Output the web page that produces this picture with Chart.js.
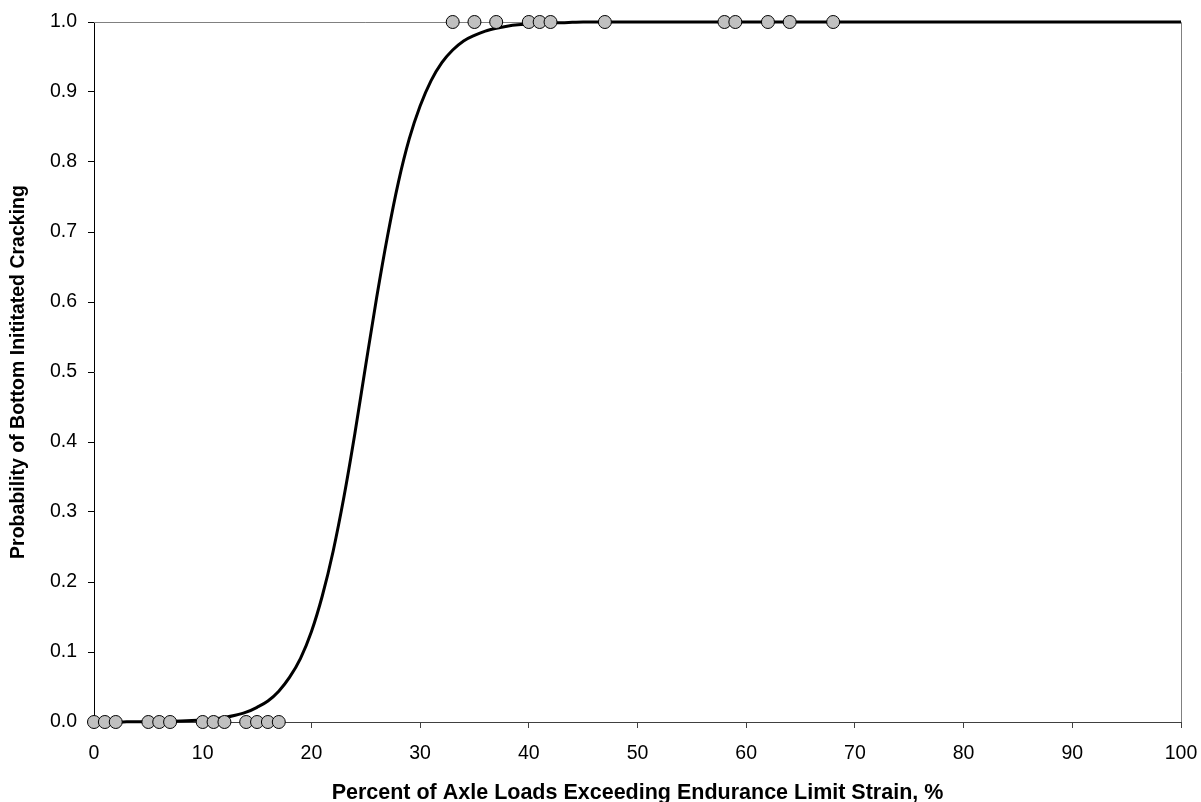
<!DOCTYPE html>
<html>
<head>
<meta charset="utf-8">
<script src="https://cdn.jsdelivr.net/npm/chart.js@4.4.1/dist/chart.umd.min.js"></script>
<style>
html,body{margin:0;padding:0;background:#fff;}
#wrap{width:1201px;height:802px;position:relative;}
</style>
</head>
<body>
<div id="wrap"><canvas id="c" width="1201" height="802"></canvas></div>
<script>
// Observed data points (x = % of axle loads exceeding limit, y = cracked 0/1)
const obsX = [0,1,2,5,6,7,10,11,12,14,15,16,17, 33,35,37,40,41,42,47,58,59,62,64,68];
const obsY = [0,0,0,0,0,0,0,0,0,0,0,0,0, 1,1,1,1,1,1,1,1,1,1,1,1];

// Fitted probability curve
const curveX = [0,1,2,3,4,5,6,7,8,9,10,11,12,13,14,15,16,17,18,19,20,21,22,23,24,25,26,27,28,29,30,31,32,33,34,35,36,37,38,39,40,41,42,43,44,45,50,60,70,80,90,100];
const curveY = [0.0001,0.0001,0.0001,0.0002,0.0003,0.0004,0.0006,0.0009,0.0013,0.002,0.003,0.0044,0.0065,0.0096,0.014,0.021,0.030,0.044,0.064,0.091,0.129,0.180,0.244,0.322,0.412,0.510,0.606,0.694,0.771,0.833,0.880,0.916,0.942,0.960,0.973,0.981,0.987,0.991,0.994,0.996,0.997,0.998,0.999,0.999,0.9995,1.0,1.0,1.0,1.0,1.0,1.0,1.0];

const xTicks = [0,10,20,30,40,50,60,70,80,90,100];
const yTicks = [0,0.1,0.2,0.3,0.4,0.5,0.6,0.7,0.8,0.9,1.0];

const FONT = "'Liberation Sans', Arial, sans-serif";

const frame = {
  id: 'frame',
  beforeDatasetsDraw(chart) {
    const {ctx, chartArea: a} = chart;
    ctx.save();
    ctx.strokeStyle = '#808080';
    ctx.lineWidth = 1;
    ctx.beginPath();
    ctx.moveTo(a.left, a.top + 0.5);
    ctx.lineTo(a.right + 0.5, a.top + 0.5);
    ctx.lineTo(a.right + 0.5, a.bottom);
    ctx.stroke();
    ctx.restore();
  }
};

new Chart(document.getElementById('c'), {
  type: 'scatter',
  data: {
    datasets: [
      {
        label: 'Observed',
        data: obsX.map((x, i) => ({x: x, y: obsY[i]})),
        pointRadius: 6.5,
        pointBackgroundColor: '#c0c0c0',
        pointBorderColor: '#000',
        pointBorderWidth: 1,
        showLine: false,
        clip: false
      },
      {
        label: 'Fitted',
        data: curveX.map((x, i) => ({x: x, y: curveY[i]})),
        showLine: true,
        borderColor: '#000',
        borderWidth: 3,
        pointRadius: 0,
        tension: 0.4,
        cubicInterpolationMode: 'monotone',
        fill: false,
        clip: false
      }
    ]
  },
  options: {
    responsive: false,
    animation: false,
    events: [],
    layout: {padding: {top: 22, right: 20, left: 0, bottom: 0}},
    plugins: {legend: {display: false}, tooltip: {enabled: false}},
    scales: {
      x: {
        type: 'linear',
        min: 0, max: 100,
        afterBuildTicks: s => { s.ticks = xTicks.map(v => ({value: v})); },
        afterFit: s => { s.height = 80; s.paddingLeft = 0; s.paddingRight = 0; },
        grid: {display: true, drawOnChartArea: false, drawTicks: true, tickLength: 6, color: '#404040'},
        border: {display: true, color: '#404040', width: 1},
        ticks: {color: '#000', font: {family: FONT, size: 19.5}, padding: 14, maxRotation: 0,
                callback: v => String(v)},
        title: {display: true, text: 'Percent of Axle Loads Exceeding Endurance Limit Strain, %',
                color: '#000', font: {family: FONT, size: 21.5, weight: 'bold', lineHeight: 0.8}, padding: {top: 4, bottom: 0}}
      },
      y: {
        type: 'linear',
        min: 0, max: 1,
        afterBuildTicks: s => { s.ticks = yTicks.map(v => ({value: v})); },
        afterFit: s => { s.width = 94; s.paddingTop = 0; s.paddingBottom = 0; },
        grid: {display: true, drawOnChartArea: false, drawTicks: true, tickLength: 6, color: '#000'},
        border: {display: true, color: '#000', width: 1},
        ticks: {color: '#000', font: {family: FONT, size: 19.5}, padding: 11,
                callback: v => Number(v).toFixed(1)},
        title: {display: true, text: 'Probability of Bottom Inititated Cracking',
                color: '#000', font: {family: FONT, size: 19.5, weight: 'bold'}, padding: {top: 7, bottom: 0}}
      }
    }
  },
  plugins: [frame]
});
</script>
</body>
</html>
